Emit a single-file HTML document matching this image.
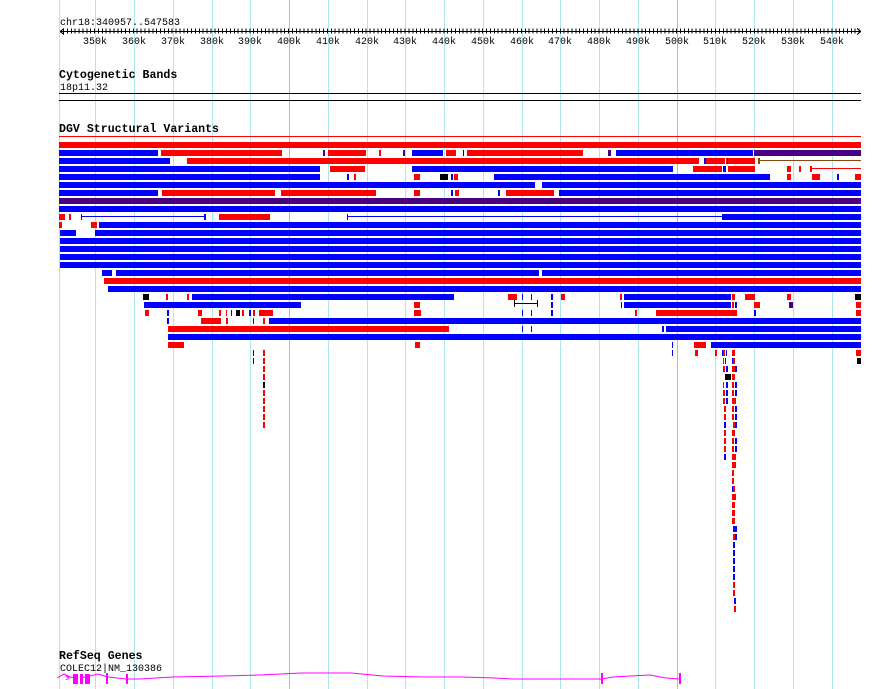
<!DOCTYPE html>
<html><head><meta charset="utf-8"><style>
body{margin:0;background:#fff;}
svg{display:block;}
text{font-family:"Liberation Mono","DejaVu Sans Mono",monospace;font-size:10px;fill:#000;}
.b{font-weight:bold;font-size:11.6px;}
</style></head><body>
<svg width="890" height="689" viewBox="0 0 890 689" xmlns="http://www.w3.org/2000/svg" shape-rendering="crispEdges">
<rect width="890" height="689" fill="#fff"/>
<g stroke="#aee6ee" stroke-width="1">
<line x1="59.5" y1="0" x2="59.5" y2="689"/>
<line x1="95.5" y1="0" x2="95.5" y2="689"/><line x1="134.5" y1="0" x2="134.5" y2="689"/><line x1="173.5" y1="0" x2="173.5" y2="689"/><line x1="212.5" y1="0" x2="212.5" y2="689"/><line x1="250.5" y1="0" x2="250.5" y2="689"/>
<line x1="328.5" y1="0" x2="328.5" y2="689"/><line x1="367.5" y1="0" x2="367.5" y2="689"/><line x1="405.5" y1="0" x2="405.5" y2="689"/><line x1="444.5" y1="0" x2="444.5" y2="689"/><line x1="483.5" y1="0" x2="483.5" y2="689"/><line x1="522.5" y1="0" x2="522.5" y2="689"/><line x1="560.5" y1="0" x2="560.5" y2="689"/><line x1="599.5" y1="0" x2="599.5" y2="689"/><line x1="638.5" y1="0" x2="638.5" y2="689"/>
<line x1="715.5" y1="0" x2="715.5" y2="689"/><line x1="754.5" y1="0" x2="754.5" y2="689"/><line x1="793.5" y1="0" x2="793.5" y2="689"/><line x1="832.5" y1="0" x2="832.5" y2="689"/>
</g>
<g stroke="#8ccbe0"><line x1="289.5" y1="0" x2="289.5" y2="689"/><line x1="677.5" y1="0" x2="677.5" y2="689"/></g>

<text x="60" y="25">chr18:340957..547583</text>
<line x1="60" y1="31.5" x2="861" y2="31.5" stroke="#000"/>
<line x1="60" y1="31" x2="861" y2="31" stroke="#000" stroke-width="5" stroke-dasharray="1 2.881" stroke-dashoffset="-3"/>
<path d="M60 31.5 l4 -3 M60 31.5 l4 3 M861 31.5 l-4 -3 M861 31.5 l-4 3" stroke="#000" fill="none"/>
<g text-anchor="middle" style="font-size:11px">
<text x="95" y="44">350k</text><text x="134" y="44">360k</text><text x="173" y="44">370k</text><text x="212" y="44">380k</text><text x="250" y="44">390k</text><text x="289" y="44">400k</text><text x="328" y="44">410k</text><text x="367" y="44">420k</text><text x="405" y="44">430k</text><text x="444" y="44">440k</text><text x="483" y="44">450k</text><text x="522" y="44">460k</text><text x="560" y="44">470k</text><text x="599" y="44">480k</text><text x="638" y="44">490k</text><text x="677" y="44">500k</text><text x="715" y="44">510k</text><text x="754" y="44">520k</text><text x="793" y="44">530k</text><text x="832" y="44">540k</text>
</g>
<text x="59" y="78" class="b">Cytogenetic Bands</text>
<text x="60" y="90">18p11.32</text>
<line x1="59" y1="93.5" x2="861" y2="93.5" stroke="#000"/>
<line x1="59" y1="100.5" x2="861" y2="100.5" stroke="#000"/>
<text x="59" y="132" class="b">DGV Structural Variants</text>
<line x1="59" y1="136.5" x2="861" y2="136.5" stroke="#f00"/>

<g fill="#f00">
<rect x="59" y="142" width="802" height="6"/>
<rect x="161" y="150" width="121" height="6"/><rect x="328" y="150" width="38" height="6"/><rect x="379" y="150" width="2" height="6"/><rect x="446" y="150" width="10" height="6"/><rect x="467" y="150" width="116" height="6"/>
<rect x="187" y="158" width="512" height="6"/><rect x="706" y="158" width="19" height="6"/><rect x="726" y="158" width="1" height="6"/><rect x="728" y="158" width="27" height="6"/>
<rect x="330" y="166" width="35" height="6"/><rect x="693" y="166" width="29" height="6"/><rect x="728" y="166" width="27" height="6"/><rect x="787" y="166" width="4" height="6"/><rect x="799" y="166" width="2" height="6"/><rect x="810" y="166" width="2" height="6"/><rect x="810" y="168" width="51" height="1"/>
<rect x="354" y="174" width="2" height="6"/><rect x="414" y="174" width="6" height="6"/><rect x="454" y="174" width="4" height="6"/><rect x="787" y="174" width="4" height="6"/><rect x="812" y="174" width="8" height="6"/><rect x="855" y="174" width="6" height="6"/>
<rect x="162" y="190" width="113" height="6"/><rect x="281" y="190" width="95" height="6"/><rect x="414" y="190" width="6" height="6"/><rect x="455" y="190" width="4" height="6"/><rect x="506" y="190" width="48" height="6"/>
<rect x="59" y="214" width="6" height="6"/><rect x="69" y="214" width="2" height="6"/><rect x="219" y="214" width="51" height="6"/>
<rect x="59" y="222" width="3" height="6"/><rect x="91" y="222" width="6" height="6"/>
<rect x="104" y="278" width="757" height="6"/>
<rect x="166" y="294" width="2" height="6"/><rect x="187" y="294" width="2" height="6"/><rect x="508" y="294" width="9" height="6"/><rect x="561" y="294" width="4" height="6"/><rect x="620" y="294" width="2" height="6"/><rect x="732" y="294" width="3" height="6"/><rect x="745" y="294" width="10" height="6"/><rect x="787" y="294" width="4" height="6"/>
<rect x="414" y="302" width="6" height="6"/><rect x="732" y="302" width="2" height="6"/><rect x="754" y="302" width="6" height="6"/><rect x="856" y="302" width="5" height="6"/>
<rect x="145" y="310" width="4" height="6"/><rect x="198" y="310" width="4" height="6"/><rect x="219" y="310" width="2" height="6"/><rect x="226" y="310" width="1" height="6"/><rect x="242" y="310" width="2" height="6"/><rect x="253" y="310" width="2" height="6"/><rect x="259" y="310" width="14" height="6"/><rect x="414" y="310" width="7" height="6"/><rect x="635" y="310" width="2" height="6"/><rect x="656" y="310" width="81" height="6"/><rect x="856" y="310" width="5" height="6"/>
<rect x="201" y="318" width="20" height="6"/><rect x="226" y="318" width="2" height="6"/><rect x="263" y="318" width="2" height="6"/>
<rect x="168" y="326" width="281" height="6"/>
<rect x="168" y="342" width="16" height="6"/><rect x="415" y="342" width="5" height="6"/><rect x="694" y="342" width="12" height="6"/>
<rect x="263" y="350" width="2" height="6"/><rect x="695" y="350" width="3" height="6"/><rect x="715" y="350" width="2" height="6"/><rect x="723" y="350" width="2" height="6"/><rect x="732" y="350" width="3" height="6"/><rect x="856" y="350" width="5" height="6"/>
<rect x="263" y="358" width="2" height="6"/><rect x="723" y="358" width="1" height="6"/><rect x="733" y="358" width="2" height="6"/>
</g>
<g fill="#00f">
<rect x="59" y="150" width="99" height="6"/><rect x="412" y="150" width="31" height="6"/><rect x="616" y="150" width="137" height="6"/>
<rect x="59" y="158" width="111" height="6"/><rect x="704" y="158" width="2" height="6"/><rect x="727" y="158" width="1" height="6"/>
<rect x="59" y="166" width="261" height="6"/><rect x="412" y="166" width="261" height="6"/><rect x="723" y="166" width="3" height="6"/>
<rect x="59" y="174" width="261" height="6"/><rect x="347" y="174" width="2" height="6"/><rect x="451" y="174" width="2" height="6"/><rect x="494" y="174" width="276" height="6"/><rect x="837" y="174" width="2" height="6"/>
<rect x="59" y="182" width="476" height="6"/><rect x="542" y="182" width="319" height="6"/>
<rect x="59" y="190" width="99" height="6"/><rect x="451" y="190" width="2" height="6"/><rect x="498" y="190" width="2" height="6"/><rect x="559" y="190" width="302" height="6"/>
<rect x="59" y="206" width="802" height="6"/>
<rect x="81" y="214" width="1" height="6"/><rect x="81" y="216" width="124" height="1"/><rect x="204" y="214" width="2" height="6"/><rect x="347" y="214" width="1" height="6"/><rect x="347" y="216" width="375" height="1"/><rect x="722" y="214" width="139" height="6"/>
<rect x="99" y="222" width="762" height="6"/>
<rect x="60" y="230" width="16" height="6"/><rect x="95" y="230" width="766" height="6"/>
<rect x="60" y="238" width="801" height="6"/><rect x="60" y="246" width="801" height="6"/><rect x="60" y="254" width="801" height="6"/><rect x="60" y="262" width="801" height="6"/>
<rect x="102" y="270" width="10" height="6"/><rect x="116" y="270" width="423" height="6"/><rect x="542" y="270" width="319" height="6"/>
<rect x="108" y="286" width="753" height="6"/>
<rect x="192" y="294" width="262" height="6"/><rect x="522" y="294" width="1" height="6"/><rect x="531" y="294" width="1" height="6"/><rect x="551" y="294" width="2" height="6"/><rect x="624" y="294" width="107" height="6"/>
<rect x="144" y="302" width="157" height="6"/><rect x="551" y="302" width="2" height="6"/><rect x="621" y="302" width="1" height="6"/><rect x="624" y="302" width="107" height="6"/><rect x="735" y="302" width="2" height="6"/>
<rect x="167" y="310" width="2" height="6"/><rect x="231" y="310" width="1" height="6"/><rect x="249" y="310" width="2" height="6"/><rect x="522" y="310" width="1" height="6"/><rect x="531" y="310" width="1" height="6"/><rect x="551" y="310" width="2" height="6"/><rect x="754" y="310" width="2" height="6"/>
<rect x="167" y="318" width="2" height="6"/><rect x="253" y="318" width="1" height="6"/><rect x="269" y="318" width="592" height="6"/>
<rect x="522" y="326" width="1" height="6"/><rect x="531" y="326" width="1" height="6"/><rect x="662" y="326" width="2" height="6"/><rect x="666" y="326" width="195" height="6"/>
<rect x="168" y="334" width="693" height="6"/>
<rect x="672" y="342" width="1" height="6"/><rect x="711" y="342" width="150" height="6"/>
<rect x="253" y="350" width="1" height="6"/><rect x="672" y="350" width="1" height="6"/><rect x="722" y="350" width="1" height="6"/><rect x="726" y="350" width="1" height="6"/>
<rect x="253" y="358" width="1" height="6"/><rect x="725" y="358" width="1" height="6"/><rect x="732" y="358" width="1" height="6"/>
</g>
<g fill="#4b0082">
<rect x="323" y="150" width="2" height="6"/><rect x="403" y="150" width="2" height="6"/><rect x="608" y="150" width="3" height="6"/><rect x="754" y="150" width="107" height="6"/>
<rect x="59" y="198" width="802" height="6"/>
<rect x="789" y="302" width="4" height="6"/>
</g>
<g fill="#000">
<rect x="463" y="150" width="1" height="6"/><rect x="440" y="174" width="8" height="6"/><rect x="143" y="294" width="6" height="6"/><rect x="855" y="294" width="6" height="6"/><rect x="236" y="310" width="4" height="6"/><rect x="857" y="358" width="4" height="6"/>
<rect x="514" y="303" width="24" height="1"/><rect x="514" y="300" width="1" height="7"/><rect x="537" y="300" width="1" height="7"/>
<rect x="263" y="382" width="2" height="6"/><rect x="725" y="374" width="6" height="6"/>
</g>
<rect x="758" y="160" width="103" height="1" fill="#8b4513"/><rect x="758" y="158" width="2" height="6" fill="#8b4513"/>
<g fill="#f00">
<rect x="263" y="366" width="2" height="6"/><rect x="263" y="374" width="2" height="6"/><rect x="263" y="390" width="2" height="6"/><rect x="263" y="398" width="2" height="6"/><rect x="263" y="406" width="2" height="6"/><rect x="263" y="414" width="2" height="6"/><rect x="263" y="422" width="2" height="6"/>
<rect x="723" y="366" width="2" height="6"/><rect x="723" y="382" width="1" height="6"/><rect x="723" y="390" width="2" height="6"/><rect x="723" y="398" width="2" height="6"/><rect x="724" y="406" width="2" height="6"/><rect x="724" y="414" width="2" height="6"/><rect x="724" y="430" width="2" height="6"/><rect x="724" y="438" width="2" height="6"/><rect x="724" y="446" width="2" height="6"/>
<rect x="732" y="366" width="3" height="6"/><rect x="732" y="374" width="3" height="6"/><rect x="732" y="382" width="2" height="6"/><rect x="732" y="390" width="2" height="6"/><rect x="732" y="398" width="4" height="6"/><rect x="732" y="406" width="2" height="6"/><rect x="732" y="414" width="2" height="6"/><rect x="733" y="422" width="2" height="6"/><rect x="732" y="430" width="3" height="6"/><rect x="732" y="438" width="2" height="6"/><rect x="732" y="446" width="2" height="6"/><rect x="732" y="454" width="4" height="6"/><rect x="732" y="462" width="4" height="6"/><rect x="732" y="470" width="2" height="6"/><rect x="732" y="478" width="2" height="6"/><rect x="733" y="486" width="2" height="6"/><rect x="732" y="494" width="4" height="6"/><rect x="732" y="502" width="3" height="6"/><rect x="732" y="510" width="3" height="6"/><rect x="732" y="518" width="3" height="6"/><rect x="733" y="534" width="2" height="6"/><rect x="733" y="582" width="2" height="6"/><rect x="733" y="590" width="2" height="6"/><rect x="734" y="606" width="2" height="6"/>
</g>
<g fill="#00f">
<rect x="726" y="366" width="2" height="6"/><rect x="726" y="382" width="2" height="6"/><rect x="726" y="390" width="2" height="6"/><rect x="726" y="398" width="2" height="6"/><rect x="724" y="422" width="2" height="6"/><rect x="724" y="454" width="2" height="6"/>
<rect x="735" y="366" width="2" height="6"/><rect x="735" y="382" width="2" height="6"/><rect x="735" y="390" width="2" height="6"/><rect x="735" y="406" width="2" height="6"/><rect x="735" y="414" width="2" height="6"/><rect x="735" y="422" width="2" height="6"/><rect x="735" y="438" width="2" height="6"/><rect x="735" y="446" width="2" height="6"/><rect x="732" y="486" width="1" height="6"/>
<rect x="733" y="526" width="4" height="6"/><rect x="735" y="534" width="2" height="6"/><rect x="733" y="542" width="2" height="6"/><rect x="733" y="550" width="2" height="6"/><rect x="733" y="558" width="2" height="6"/><rect x="733" y="566" width="2" height="6"/><rect x="733" y="574" width="2" height="6"/><rect x="734" y="598" width="2" height="6"/>
</g>

<text x="59" y="659" class="b">RefSeq Genes</text>
<text x="60" y="671">COLEC12|NM_130386</text>
<g stroke="#f0f" fill="none" shape-rendering="auto">
<polyline points="57,678 64,674 70,677 76,678"/>
<polyline points="80,678 90,676 98,674 108,677 126,679 140,679 155,678 173,677 223,676 260,675 301,673 351,673 383,676 423,677 462,677 495,678 513,679 530,679 553,679 590,679 602,679 613,677 630,676 650,675 666,678 680,679"/>
<path d="M66 676 l3 2 -3 2"/>
</g>
<g fill="#f0f">
<rect x="73" y="674" width="5" height="10"/><rect x="80" y="674" width="3" height="10"/><rect x="85" y="674" width="5" height="10"/>
<rect x="106" y="673" width="2" height="11"/><rect x="126" y="674" width="2" height="10"/><rect x="601" y="673" width="2" height="11"/><rect x="679" y="673" width="2" height="11"/>
</g>
</svg>
</body></html>
